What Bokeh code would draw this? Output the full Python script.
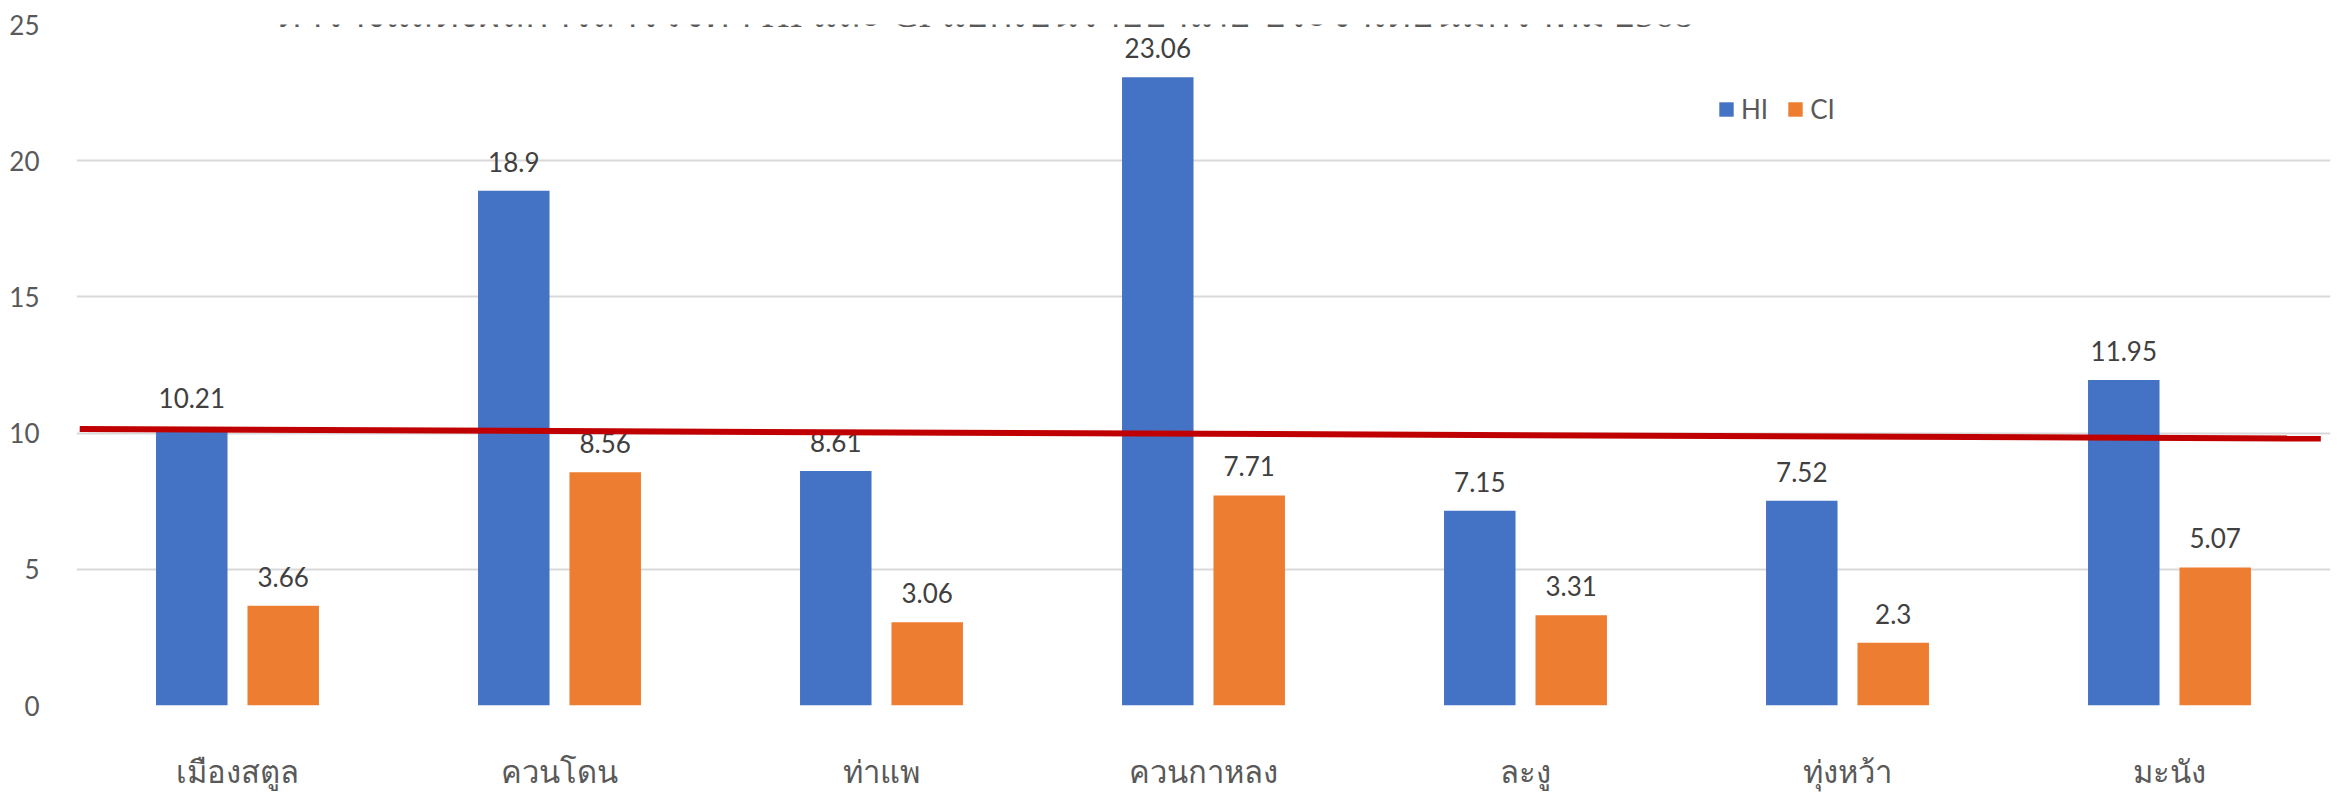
from bokeh.plotting import figure
from bokeh.models import FactorRange, Range1d, FixedTicker, Label, Legend, LegendItem, ColumnDataSource
from bokeh.transform import dodge
from bokeh.embed import file_html
from bokeh.resources import INLINE

title_text = "ตารางแสดงผลการสำรวจค่า HI และ CI แยกเป็นรายอำเภอ ประจำเดือนมกราคม 2568"
districts = ["เมืองสตูล", "ควนโดน", "ท่าแพ", "ควนกาหลง", "ละงู", "ทุ่งหว้า", "มะนัง"]
hi_values = [10.21, 18.9, 8.61, 23.06, 7.15, 7.52, 11.95]
ci_values = [3.66, 8.56, 3.06, 7.71, 3.31, 2.3, 5.07]
y_ticks = [0, 5, 10, 15, 20, 25]
threshold_x = [0.01, 6.97]
threshold_y = [10.15, 9.8]

hi_labels = [f"{v:g}" for v in hi_values]
ci_labels = [f"{v:g}" for v in ci_values]
src = ColumnDataSource(dict(d=districts, hi=hi_values, ci=ci_values, hil=hi_labels, cil=ci_labels))

p = figure(x_range=FactorRange(factors=districts, range_padding=0), y_range=Range1d(0, 25),
           width=2343, height=794, output_backend="svg", toolbar_location=None,
           min_border_left=76, min_border_right=13, min_border_top=24, min_border_bottom=86)
p.outline_line_color = None
p.background_fill_color = "white"
p.border_fill_color = "white"

hi_r = p.vbar(x=dodge("d", -0.142, range=p.x_range), top="hi", width=0.222, source=src,
              fill_color="#4472C4", line_color=None)
ci_r = p.vbar(x=dodge("d", 0.142, range=p.x_range), top="ci", width=0.222, source=src,
              fill_color="#ED7D31", line_color=None)

lbl_font = "Lato"
p.text(x=dodge("d", -0.142, range=p.x_range), y="hi", text="hil", source=src,
       text_align="center", text_baseline="bottom", y_offset=-19,
       text_font={"value": lbl_font}, text_font_size="26px", text_color="#404040")
p.text(x=dodge("d", 0.142, range=p.x_range), y="ci", text="cil", source=src,
       text_align="center", text_baseline="bottom", y_offset=-19,
       text_font={"value": lbl_font}, text_font_size="26px", text_color="#404040")

p.line(x=threshold_x, y=threshold_y, line_color="#C00000", line_width=6)

p.yaxis.ticker = FixedTicker(ticks=y_ticks)
p.yaxis.axis_line_color = None
p.yaxis.major_tick_line_color = None
p.yaxis.minor_tick_line_color = None
p.yaxis.major_label_text_font = lbl_font
p.yaxis.major_label_text_font_size = "26px"
p.yaxis.major_label_text_color = "#595959"
p.yaxis.major_label_standoff = 31

p.xaxis.axis_line_color = None
p.xaxis.major_tick_line_color = None
p.xaxis.major_label_text_font = "Noto Sans"
p.xaxis.major_label_text_font_size = "31px"
p.xaxis.major_label_text_color = "#595959"
p.xaxis.major_label_standoff = 38

p.xgrid.grid_line_color = None
p.ygrid.grid_line_color = "#D9D9D9"
p.ygrid.grid_line_width = 2

legend = Legend(items=[LegendItem(label="HI", renderers=[hi_r]), LegendItem(label="CI", renderers=[ci_r])],
                orientation="horizontal", location=(1641, 580), glyph_width=18, glyph_height=18,
                label_text_font="Lato", label_text_font_size="26px", label_text_color="#595959",
                padding=0, margin=0, spacing=18, label_standoff=6,
                border_line_color=None, background_fill_alpha=0)
p.add_layout(legend, "center")

title = Label(x=2.82, y=25.42, text=title_text, text_align="center", text_baseline="alphabetic",
              text_font="Liberation Serif", text_font_size="39px", text_color="#595959")
p.add_layout(title)

open("out.html", "w").write(file_html(p, INLINE))
